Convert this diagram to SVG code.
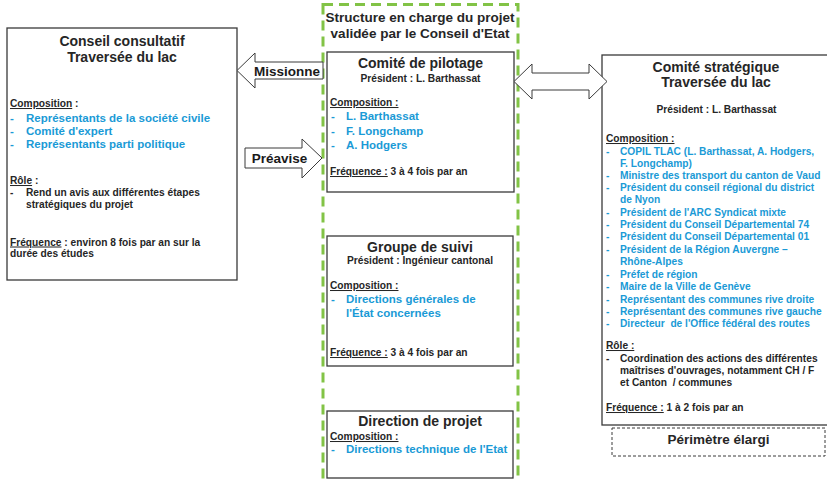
<svg xmlns="http://www.w3.org/2000/svg" width="827" height="480" viewBox="0 0 827 480">
  <style>
    text { font-family: "Liberation Sans", Arial, sans-serif; font-weight: bold; fill: #262626; }
    .title { font-size: 14px; text-anchor: middle; }
    .sub { font-size: 10.2px; text-anchor: middle; }
    .txt { font-size: 10.2px; }
    .item { font-size: 11.5px; fill: #1a9ad6; }
    .item-s { font-size: 10.2px; fill: #1a9ad6; }
    .ul { text-decoration: underline; }
    .arrow-label { font-size: 13.5px; text-anchor: middle; fill: #1a1a1a; }
    .box { fill: #ffffff; stroke: #3a3a3a; stroke-width: 1.3; }
    .arrow { fill: #ffffff; stroke: #3a3a3a; stroke-width: 1; }
  </style>

  <rect width="827" height="480" fill="#ffffff"/>

  <!-- State-validated structure (dashed green frame) -->
  <g id="structure-etat">
    <rect x="323" y="4.5" width="195" height="490" fill="none" stroke="#82c346" stroke-width="3" stroke-dasharray="10 6"/>
    <text class="title" x="420" y="22" style="font-size:13.5px">Structure en charge du projet</text>
    <text class="title" x="420" y="38" style="font-size:13.5px">validée par le Conseil d'Etat</text>
  </g>

  <!-- Advisory council -->
  <g id="conseil-consultatif">
    <rect class="box" x="7" y="28" width="230" height="252"/>
    <text class="title" x="122" y="46">Conseil consultatif</text>
    <text class="title" x="122" y="62">Traversée du lac</text>
    <text class="txt" x="10" y="107"><tspan class="ul">Composition</tspan> :</text>
    <text class="item" x="10" y="121.5">-</text>
    <text class="item" x="26" y="121.5">Représentants de la société civile</text>
    <text class="item" x="10" y="134.5">-</text>
    <text class="item" x="26" y="134.5">Comité d'expert</text>
    <text class="item" x="10" y="148">-</text>
    <text class="item" x="26" y="148">Représentants parti politique</text>
    <text class="txt" x="10" y="184"><tspan class="ul">Rôle</tspan> :</text>
    <text class="txt" x="10" y="196">-</text>
    <text class="txt" x="26" y="196">Rend un avis aux différentes étapes</text>
    <text class="txt" x="26" y="207.5">stratégiques du projet</text>
    <text class="txt" x="10" y="245.5"><tspan class="ul">Fréquence</tspan> : environ 8 fois par an sur la</text>
    <text class="txt" x="10" y="257">durée des études</text>
  </g>

  <!-- Steering committee -->
  <g id="comite-pilotage">
    <rect class="box" x="327" y="52" width="187" height="140"/>
    <text class="title" x="420.5" y="68">Comité de pilotage</text>
    <text class="sub" x="420.5" y="82">Président : L. Barthassat</text>
    <text class="txt" x="330" y="106"><tspan class="ul">Composition :</tspan></text>
    <text class="item" x="331" y="120">-</text>
    <text class="item" x="346" y="120">L. Barthassat</text>
    <text class="item" x="331" y="135">-</text>
    <text class="item" x="346" y="135">F. Longchamp</text>
    <text class="item" x="331" y="149">-</text>
    <text class="item" x="346" y="149">A. Hodgers</text>
    <text class="txt" x="330" y="175"><tspan class="ul">Fréquence :</tspan> 3 à 4 fois par an</text>
  </g>

  <!-- Follow-up group -->
  <g id="groupe-suivi">
    <rect class="box" x="327" y="236" width="186" height="130"/>
    <text class="title" x="420" y="252">Groupe de suivi</text>
    <text class="sub" x="420" y="264">Président : Ingénieur cantonal</text>
    <text class="txt" x="330" y="289"><tspan class="ul">Composition :</tspan></text>
    <text class="item" x="331" y="303">-</text>
    <text class="item" x="346" y="303">Directions générales de</text>
    <text class="item" x="346" y="317">l'État concernées</text>
    <text class="txt" x="330" y="356"><tspan class="ul">Fréquence :</tspan> 3 à 4 fois par an</text>
  </g>

  <!-- Project management -->
  <g id="direction-projet">
    <rect class="box" x="327" y="411" width="186" height="67"/>
    <text class="title" x="420" y="426">Direction de projet</text>
    <text class="txt" x="330" y="440"><tspan class="ul">Composition :</tspan></text>
    <text class="item" x="331" y="452.5">-</text>
    <text class="item" x="346" y="452.5">Directions technique de l'Etat</text>
  </g>

  <!-- Strategic committee -->
  <g id="comite-strategique">
    <rect class="box" x="602" y="55" width="228" height="370"/>
    <text class="title" x="716" y="72">Comité stratégique</text>
    <text class="title" x="716" y="87">Traversée du lac</text>
    <text class="sub" x="716.5" y="113">Président : L. Barthassat</text>
    <text class="txt" x="606" y="142"><tspan class="ul">Composition :</tspan></text>
    <g class="item-s">
      <text class="item-s" x="606" y="154.5">-</text>
      <text class="item-s" x="620" y="154.5">COPIL TLAC (L. Barthassat, A. Hodgers,</text>
      <text class="item-s" x="620" y="166.5">F. Longchamp)</text>
      <text class="item-s" x="606" y="178.5">-</text>
      <text class="item-s" x="620" y="178.5">Ministre des transport du canton de Vaud</text>
      <text class="item-s" x="606" y="191">-</text>
      <text class="item-s" x="620" y="191">Président du conseil régional du district</text>
      <text class="item-s" x="620" y="203">de Nyon</text>
      <text class="item-s" x="606" y="215.5">-</text>
      <text class="item-s" x="620" y="215.5">Président de l'ARC Syndicat mixte</text>
      <text class="item-s" x="606" y="227.5">-</text>
      <text class="item-s" x="620" y="227.5">Président du Conseil Départemental 74</text>
      <text class="item-s" x="606" y="240">-</text>
      <text class="item-s" x="620" y="240">Président du Conseil Départemental 01</text>
      <text class="item-s" x="606" y="252.5">-</text>
      <text class="item-s" x="620" y="252.5">Président de la Région Auvergne –</text>
      <text class="item-s" x="620" y="264.5">Rhône-Alpes</text>
      <text class="item-s" x="606" y="277.5">-</text>
      <text class="item-s" x="620" y="277.5">Préfet de région</text>
      <text class="item-s" x="606" y="289.5">-</text>
      <text class="item-s" x="620" y="289.5">Maire  de la Ville de Genève</text>
      <text class="item-s" x="606" y="302.5">-</text>
      <text class="item-s" x="620" y="302.5">Représentant des communes rive droite</text>
      <text class="item-s" x="606" y="314.5">-</text>
      <text class="item-s" x="620" y="314.5">Représentant des communes rive gauche</text>
      <text class="item-s" x="606" y="326.5">-</text>
      <text class="item-s" x="620" y="326.5" xml:space="preserve">Directeur  de l'Office fédéral des routes</text>
    </g>
    <text class="txt" x="606" y="349"><tspan class="ul">Rôle :</tspan></text>
    <text class="txt" x="606" y="362">-</text>
    <text class="txt" x="620" y="362">Coordination des actions des différentes</text>
    <text class="txt" x="620" y="374">maîtrises d'ouvrages, notamment CH / F</text>
    <text class="txt" x="620" y="386" xml:space="preserve">et Canton  / communes</text>
    <text class="txt" x="606" y="411"><tspan class="ul">Fréquence :</tspan> 1 à 2 fois par an</text>
  </g>

  <!-- Extended perimeter label -->
  <g id="perimetre-elargi">
    <rect x="612" y="428" width="213" height="28" fill="#ffffff" stroke="#3a3a3a" stroke-width="1" stroke-dasharray="3 2"/>
    <text class="title" x="718.5" y="444" style="font-size:13.5px">Périmètre élargi</text>
  </g>

  <!-- Connectors: block arrows -->
  <g id="connectors">
    <g id="missionne">
      <polygon class="arrow" points="237,70.5 255,53 255,62 323,62 323,79 255,79 255,88"/>
      <text class="arrow-label" x="287" y="76">Missionne</text>
    </g>
    <g id="preavise">
      <polygon class="arrow" points="245,148 302,148 302,139 322,158 302,178 302,168 245,168"/>
      <text class="arrow-label" x="279.5" y="163">Préavise</text>
    </g>
    <g id="liaison-copil-cos">
      <polygon class="arrow" points="514,81.5 532,64 532,73 589,73 589,64 607,81.5 589,99 589,90 532,90 532,99"/>
    </g>
  </g>
</svg>
